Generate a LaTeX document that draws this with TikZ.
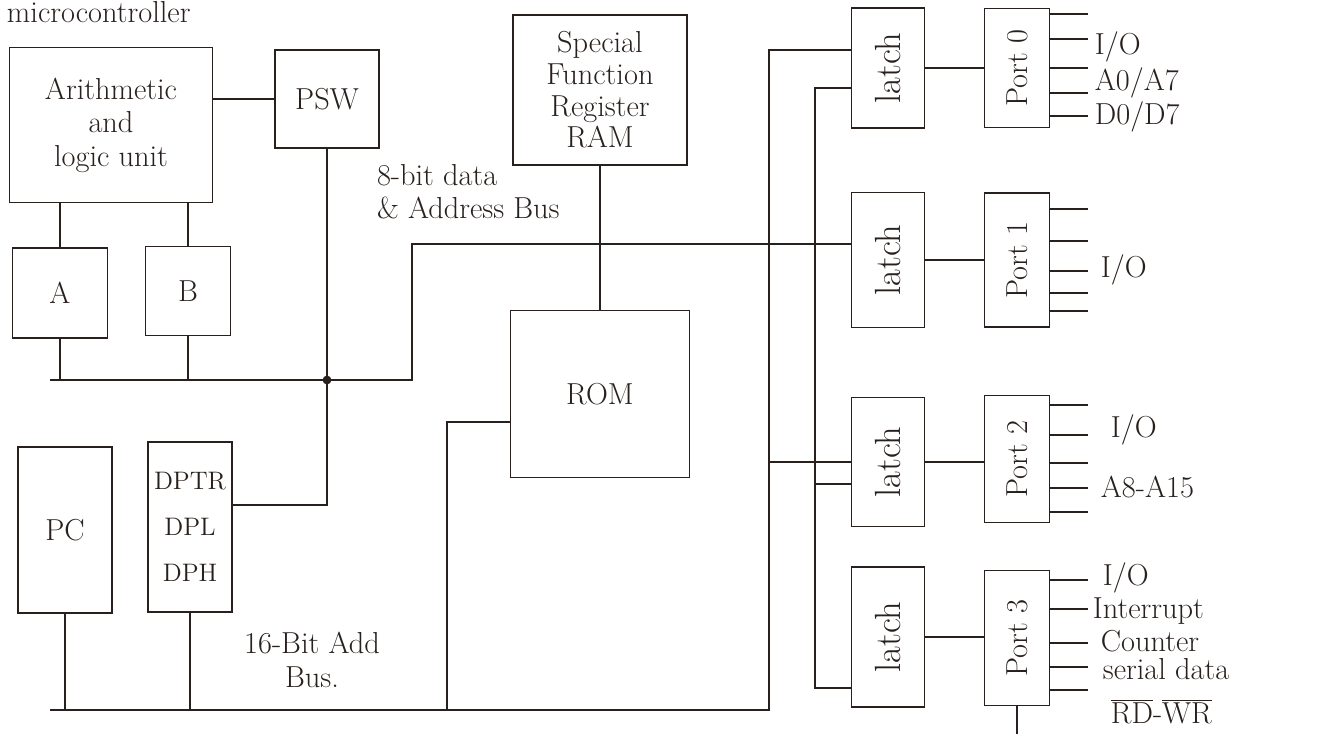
\documentclass[tikz,border=0pt]{standalone}
\usepackage{tikz}
\usetikzlibrary{positioning, calc}
\definecolor{ink}{RGB}{40, 32, 28}

\begin{document}
\begin{tikzpicture}[x=0.02cm, y=-0.02cm, font=\LARGE, color=ink, line width=1.3pt,
  unit/.style={draw, line width=1.1pt, align=center, inner sep=2pt},
  latchbox/.style={unit, minimum width=1.46cm, font=\huge},
  portbox/.style={unit, minimum width=1.3cm},
  bus/.style={line width=1.6pt},
  pinlabel/.style={anchor=west, inner sep=1pt}]

  \useasboundingbox (0,0) rectangle (1333,734);
  \node[anchor=base west] (title) at (0,22) {microcontroller};

  % CPU side
  \node[unit, minimum width=4.06cm, minimum height=3.1cm] (alu) at (111,125) {Arithmetic\\[-3pt]and\\[-3pt]logic unit};
  \node[unit, minimum width=2.08cm, minimum height=1.96cm] (psw) at (327,99) {PSW};
  \node[unit, minimum width=1.9cm, minimum height=1.8cm] (rega) at (60,293) {A};
  \node[unit, minimum width=1.7cm, minimum height=1.78cm] (regb) at (188,291) {B};
  \node[unit, minimum width=1.88cm, minimum height=3.32cm] (pc) at (65,530) {PC};
  \node[unit, minimum width=1.68cm, minimum height=3.4cm, font=\Large] (dptr) at (190,527) {DPTR\\[8pt]DPL\\[8pt]DPH};

  % memory
  \node[unit, minimum width=3.48cm, minimum height=3cm] (sfr) at (600,90) {Special\\[-4pt]Function\\[-4pt]Register\\[-4pt]RAM};
  \node[unit, minimum width=3.58cm, minimum height=3.34cm] (rom) at (600,394) {ROM};

  % latches and ports
  \foreach \i/\y/\h in {0/68/2.4, 1/260/2.7, 2/462/2.58, 3/637/2.8}
    \node[latchbox, minimum height=\h cm] (latch\i) at (888,\y) {\rotatebox{90}{latch}};
  \foreach \i/\y/\h in {0/68/2.38, 1/260/2.68, 2/459/2.54, 3/638/2.7}
    \node[portbox, minimum height=\h cm] (port\i) at (1017,\y) {\rotatebox{90}{Port \i}};

  % 8-bit bus
  \draw (alu.east |- psw.west) -- (psw.west);
  \draw (rega.north) -- (rega.north |- alu.south);
  \draw (regb.north) -- (regb.north |- alu.south);
  \coordinate (dbl) at (50,380);
  \coordinate (dbr) at (412,380);
  \coordinate (dbt) at (412,244);
  \draw[bus] (dbl) -- (dbr) -- (dbt) -- (dbt -| latch1.west);
  \draw (rega.south) -- (rega.south |- dbl);
  \draw (regb.south) -- (regb.south |- dbl);
  \coordinate (pswd) at (327,505);
  \draw (psw.south) -- (pswd) -- (pswd -| dptr.east);
  \fill (psw.south |- dbl) circle (2.5pt);
  \draw (sfr.south) -- (rom.north);

  % 16-bit bus
  \coordinate (romw) at (447,422);
  \coordinate (abl) at (50,710);
  \coordinate (abr) at (769,710);
  \coordinate (abt) at (769,50);
  \draw (rom.west |- romw) -- (romw) -- (romw |- abl);
  \draw[bus] (abl) -- (abr) -- (abt) -- (abt -| latch0.west);
  \draw (pc.south) -- (pc.south |- abl);
  \draw (dptr.south) -- (dptr.south |- abl);
  \coordinate (ab2) at (769,462);
  \draw (ab2) -- (ab2 -| latch2.west);
  \coordinate (dtt) at (815,88);
  \coordinate (dtb) at (815,688);
  \coordinate (dt2) at (815,484);
  \draw (dtt -| latch0.west) -- (dtt) -- (dtb) -- (dtb -| latch3.west);
  \draw (dt2) -- (dt2 -| latch2.west);

  \foreach \i in {0,...,3}
    \draw (latch\i.east) -- (latch\i.east -| port\i.west);

  % port pins
  \foreach \y in {14,39,68,93,116}
    \draw (port0.east |- 0,\y) -- ++(38,0);
  \foreach \y in {209,241,271,293,311}
    \draw (port1.east |- 0,\y) -- ++(38,0);
  \foreach \y in {405,435,463,488,512}
    \draw (port2.east |- 0,\y) -- ++(38,0);
  \foreach \y in {580,609,643,667,690}
    \draw (port3.east |- 0,\y) -- ++(38,0);
  \coordinate (p3out) at (1017,734);
  \draw (port3.south) -- (p3out);

  \node[pinlabel] (io0) at (1092,47) {I/O};
  \node[pinlabel] (ad0) at (1092,83) {A0/A7};
  \node[pinlabel] (dd0) at (1092,117) {D0/D7};
  \node[pinlabel] (io1) at (1098,270) {I/O};
  \node[pinlabel] (io2) at (1108,430) {I/O};
  \node[pinlabel] (ah2) at (1098,487) {A8-A15};
  \node[pinlabel] (io3) at (1100,578) {I/O};
  \node[pinlabel] (int3) at (1090,611) {Interrupt};
  \node[pinlabel] (cnt3) at (1098,641) {Counter};
  \node[pinlabel] (ser3) at (1100,669) {serial data};
  \node[pinlabel] (rw3) at (1108,711) {$\overline{\mathrm{RD}}$-$\overline{\mathrm{WR}}$};

  \node[anchor=west, align=left] (dblabel) at (370,192) {8-bit data\\[-3pt]\& Address Bus};
  \node[align=center] (ablabel) at (312,660) {16-Bit Add\\[-3pt]Bus.};

\end{tikzpicture}
\end{document}
